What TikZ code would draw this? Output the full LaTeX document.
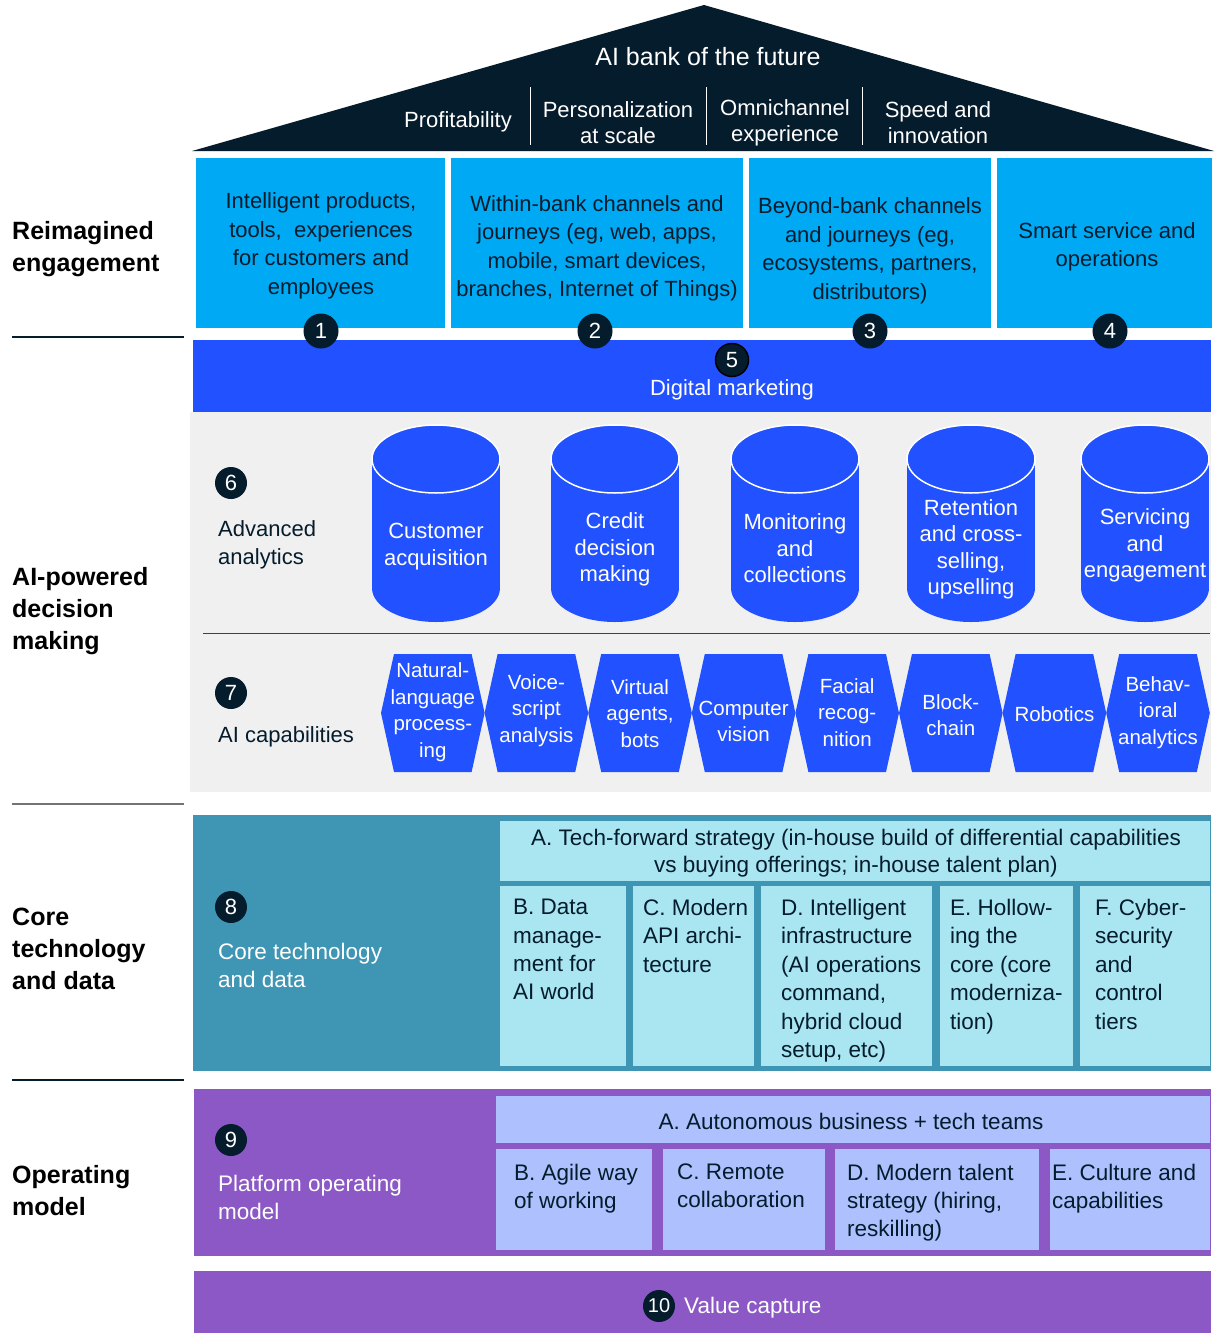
\documentclass[tikz,border=0pt]{standalone}
\usepackage{fontspec}
\setmainfont{Liberation Sans}
\definecolor{navy}{HTML}{051C2C}
\definecolor{cyanc}{HTML}{00A9F4}
\definecolor{bluec}{HTML}{2251FF}
\definecolor{grayc}{HTML}{F0F0F0}
\definecolor{tealc}{HTML}{3F96B4}
\definecolor{ltcyan}{HTML}{A9E6F1}
\definecolor{purplec}{HTML}{8B58C6}
\definecolor{lavc}{HTML}{AEC1FE}
\tikzset{
  lbl/.style={anchor=west, align=left, inner sep=0, text=black, font=\fontsize{25}{32}\selectfont\bfseries},
  rooft/.style={align=center, inner sep=0, text=white, font=\fontsize{22}{26}\selectfont},
  celltxt/.style={align=center, inner sep=0, text=navy, font=\fontsize{22}{28.5}\selectfont},
  subtxt/.style={anchor=north west, align=left, inner sep=0, text=navy, font=\fontsize{22.5}{28.4}\selectfont},
  wtxt/.style={align=left, inner sep=0, text=white, font=\fontsize{22.5}{28}\selectfont},
  dtxt/.style={align=left, inner sep=0, text=navy, font=\fontsize{22}{28}\selectfont},
  cyltxt/.style={align=center, inner sep=0, text=white, font=\fontsize{22}{26.5}\selectfont},
  hextxt/.style={align=center, inner sep=0, text=white, font=\fontsize{20.5}{26.5}\selectfont},
  num/.style={circle, fill=navy, text=white, inner sep=0, minimum size=35, font=\fontsize{22}{22}\selectfont},
  sepl/.style={line width=1.3pt},
}
\begin{document}
\begin{tikzpicture}[x=1pt,y=-1pt]
\useasboundingbox (0,0) rectangle (1216,1333);
\fill[white] (0,0) rectangle (1216,1333);

% roof
\fill[navy] (192,151) -- (704,5) -- (1214,151) -- cycle;
\node[rooft, font=\fontsize{25}{30}\selectfont] (title) at (708,57) {AI bank of the future};
\node[rooft] (prof) at (458,122) {Profitability};
\node[rooft] (pers) at (618,123) {Personalization\\at scale};
\node[rooft] (omni) at (785,123) {Omnichannel\\experience};
\node[rooft] (speed) at (938,123) {Speed and\\innovation};
\coordinate (s1a) at (530,87); \coordinate (s1b) at (530,145);
\coordinate (s2a) at (706,87); \coordinate (s2b) at (706,145);
\coordinate (s3a) at (862,87); \coordinate (s3b) at (862,145);
\draw[white, line width=1pt] (s1a) -- (s1b) (s2a) -- (s2b) (s3a) -- (s3b);

% left labels
\node[lbl] (L1) at (12,249) {Reimagined\\engagement};
\node[lbl] (L2) at (12,611.5) {AI-powered\\decision\\making};
\node[lbl] (L3) at (12,949) {Core\\technology\\and data};
\node[lbl] (L4) at (12,1191) {Operating\\model};
\coordinate (d1a) at (12,337); \coordinate (d1b) at (184,337);
\coordinate (d2a) at (12,804); \coordinate (d2b) at (184,804);
\coordinate (d3a) at (12,1080); \coordinate (d3b) at (184,1080);
\draw[sepl, navy] (d1a) -- (d1b);
\draw[sepl, black!55] (d2a) -- (d2b);
\draw[sepl, navy] (d3a) -- (d3b);

% engagement cells
\fill[cyanc] (196,158) rectangle (445,328);
\fill[cyanc] (451,158) rectangle (743,328);
\fill[cyanc] (749,158) rectangle (991,328);
\fill[cyanc] (997,158) rectangle (1212,328);
\node[celltxt] (c1) at (321,246) {Intelligent products,\\tools,\ \ experiences\\for customers and\\employees};
\node[celltxt] (c2) at (597,248.5) {Within-bank channels and\\journeys (eg, web, apps,\\mobile, smart devices,\\branches, Internet of Things)};
\node[celltxt] (c3) at (870,251) {Beyond-bank channels\\and journeys (eg,\\ecosystems, partners,\\distributors)};
\node[celltxt] (c4) at (1107,247) {Smart service and\\operations};

% digital marketing band
\fill[bluec] (193,340) rectangle (1211,412);
\node[num] (n1) at (321,331) {1};
\node[num] (n2) at (595,331) {2};
\node[num] (n3) at (870,331) {3};
\node[num] (n4) at (1110,331) {4};
\node[num, draw=black, line width=1.5pt, minimum size=33] (n5) at (732,360) {5};
\node[wtxt, font=\fontsize{22}{26}\selectfont] (dm) at (732,390) {Digital marketing};

% AI-powered decision making area
\fill[grayc] (190,412) rectangle (1211,792);
\coordinate (g1) at (203,633); \coordinate (g2) at (1210,633);
\draw[line width=1pt, black!75] (g1) -- (g2);
\node[num, minimum size=32] (n6) at (231,483) {6};
\node[dtxt, anchor=west] (adv) at (218,545) {Advanced\\analytics};
\node[num, minimum size=32] (n7) at (231,693) {7};
\node[dtxt, anchor=west] (aic) at (218,737) {AI capabilities};

% cylinders
\foreach \cx/\ty/\txt [count=\k] in {436/546.5/{Customer\\acquisition}, 615/549.5/{Credit\\decision\\making}, 795/548.5/{Monitoring\\and\\collections}, 971/549.5/{Retention\\and cross-\\selling,\\upselling}, 1145/545.5/{Servicing\\and\\engagement}}{
  \fill[bluec] (\cx,588) ellipse [x radius=64, y radius=34];
  \fill[bluec] (\cx-64,459) rectangle (\cx+64,588);
  \filldraw[fill=bluec, draw=white, line width=1.5pt] (\cx,459) ellipse [x radius=64, y radius=34];
  \node[cyltxt] (cyl\k) at (\cx,\ty) {\txt};
}

% hexagons
\foreach \i/\yy/\txt in {0/712/{Natural-\\language\\process-\\ing}, 1/710.5/{Voice-\\script\\analysis}, 2/713.5/{Virtual\\agents,\\bots}, 3/721.5/{Computer\\vision}, 4/712.5/{Facial\\recog-\\nition}, 5/715/{Block-\\chain}, 6/714/{Robotics}, 7/712.5/{Behav-\\ioral\\analytics}}{
  \pgfmathsetmacro{\xl}{381+103.6*\i}
  \pgfmathsetmacro{\xr}{\xl+103.6}
  \pgfmathsetmacro{\xm}{\xl+51.8}
  \fill[bluec] (\xl,713) -- (\xl+13,654) -- (\xr-13,654) -- (\xr,713) -- (\xr-13,772) -- (\xl+13,772) -- cycle;
  \node[hextxt] (hex\i) at (\xm,\yy) {\txt};
}

% core technology and data
\fill[tealc] (193,815) rectangle (1211,1071);
\node[num, minimum size=32] (n8) at (231,907) {8};
\node[wtxt, anchor=west] (ctd) at (218,965) {Core technology\\and data};
\fill[ltcyan] (500,821) rectangle (1210,881);
\fill[ltcyan] (500,886) rectangle (626,1066);
\fill[ltcyan] (633,886) rectangle (754,1066);
\fill[ltcyan] (761,886) rectangle (932,1066);
\fill[ltcyan] (940,886) rectangle (1073,1066);
\fill[ltcyan] (1080,886) rectangle (1210,1066);
\node[celltxt, font=\fontsize{22.5}{27}\selectfont] (tA) at (856,853.5) {A. Tech-forward strategy (in-house build of differential capabilities\\vs buying offerings; in-house talent plan)};
\node[subtxt] (tB) at (513,899) {B. Data\\manage-\\ment for\\AI world};
\node[subtxt] (tC) at (643,899) {C. Modern\\API archi-\\tecture};
\node[subtxt] (tD) at (781,899) {D. Intelligent\\infrastructure\\(AI operations\\command,\\hybrid cloud\\setup, etc)};
\node[subtxt] (tE) at (950,899) {E. Hollow-\\ing the\\core (core\\moderniza-\\tion)};
\node[subtxt] (tF) at (1095,899) {F. Cyber-\\security\\and\\control\\tiers};

% operating model
\fill[purplec] (194,1089) rectangle (1211,1256);
\node[num, minimum size=32] (n9) at (231,1140) {9};
\node[wtxt, anchor=west] (pom) at (218,1197) {Platform operating\\model};
\fill[lavc] (496,1096) rectangle (1210,1143);
\fill[lavc] (496,1149) rectangle (652,1250);
\fill[lavc] (663,1149) rectangle (825,1250);
\fill[lavc] (835,1149) rectangle (1039,1250);
\fill[lavc] (1050,1149) rectangle (1210,1250);
\node[celltxt, font=\fontsize{22.5}{27}\selectfont] (oA) at (851,1121) {A. Autonomous business + tech teams};
\node[subtxt, font=\fontsize{22.5}{28}\selectfont] (oB) at (514,1164) {B. Agile way\\of working};
\node[subtxt, font=\fontsize{22.5}{28}\selectfont] (oC) at (677,1164) {C. Remote\\collaboration};
\node[subtxt, font=\fontsize{22.5}{28}\selectfont] (oD) at (847,1164) {D. Modern talent\\strategy (hiring,\\reskilling)};
\node[subtxt, font=\fontsize{22.5}{28}\selectfont] (oE) at (1052,1164) {E. Culture and\\capabilities};

% value capture
\fill[purplec] (194,1271) rectangle (1211,1333);
\node[num, minimum size=32, font=\fontsize{20}{20}\selectfont] (n10) at (659,1306) {10};
\node[wtxt, anchor=west] (vc) at (684,1308) {Value capture};
\end{tikzpicture}
\end{document}
